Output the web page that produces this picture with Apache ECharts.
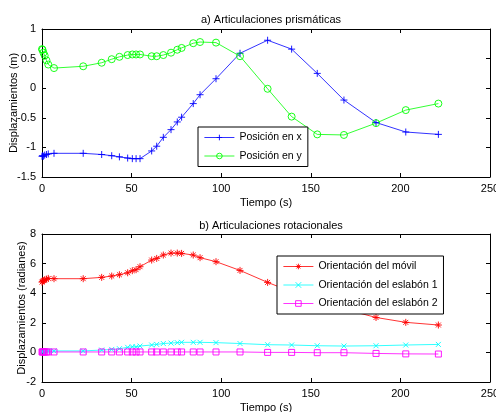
<!DOCTYPE html>
<html>
<head>
<meta charset="utf-8">
<script src="https://cdn.jsdelivr.net/npm/echarts@6/dist/echarts.min.js"></script>
<style>
  html, body { margin: 0; padding: 0; background: #fff; }
  #chart { width: 496px; height: 412px; }
</style>
</head>
<body>
<div id="chart"></div>
<script>
// time samples (s), shared by every series
const times = [0, 0.3, 0.8, 1.5, 2.5, 3.5, 6.7, 23, 33.3, 38.9, 43.2, 47.8, 50.4, 52.5, 54.7, 61.2, 64, 67.7, 72, 75.5, 77.9, 84.4, 88.2, 97.1, 110.5, 125.9, 139.3, 153.6, 168.5, 186.4, 203, 221.2];

// a) prismatic joints (m)
const posX = [-1.15, -1.14, -1.15, -1.13, -1.12, -1.11, -1.10, -1.10, -1.12, -1.14, -1.16, -1.18, -1.19, -1.19, -1.19, -1.06, -0.98, -0.83, -0.70, -0.57, -0.49, -0.26, -0.11, 0.16, 0.59, 0.81, 0.66, 0.25, -0.20, -0.58, -0.74, -0.78];
const posY = [0.66, 0.65, 0.60, 0.55, 0.47, 0.40, 0.34, 0.37, 0.43, 0.49, 0.53, 0.56, 0.57, 0.57, 0.57, 0.54, 0.54, 0.56, 0.60, 0.65, 0.68, 0.76, 0.78, 0.77, 0.54, -0.01, -0.48, -0.78, -0.79, -0.59, -0.37, -0.26];

// b) rotational joints (rad)
const rotMovil = [4.75, 4.80, 4.85, 4.90, 4.95, 5.00, 4.98, 4.98, 5.07, 5.16, 5.25, 5.38, 5.52, 5.59, 5.79, 6.24, 6.35, 6.58, 6.71, 6.71, 6.69, 6.58, 6.40, 6.13, 5.54, 4.73, 4.10, 3.50, 2.93, 2.36, 2.03, 1.85];
const rotEsl1 = [0.05, 0.06, 0.07, 0.08, 0.09, 0.10, 0.10, 0.10, 0.16, 0.20, 0.25, 0.34, 0.38, 0.38, 0.43, 0.50, 0.54, 0.60, 0.63, 0.66, 0.68, 0.68, 0.68, 0.66, 0.60, 0.52, 0.50, 0.45, 0.43, 0.45, 0.50, 0.54];
const rotEsl2 = [0.03, 0.03, 0.03, 0.03, 0.03, 0.03, 0.03, 0.03, 0.03, 0.03, 0.03, 0.03, 0.03, 0.03, 0.03, 0.03, 0.03, 0.03, 0.03, 0.03, 0.03, 0.03, 0.03, 0.03, 0.03, 0.00, 0.00, -0.02, -0.02, -0.07, -0.10, -0.11];

const xTicks = { min: 0, max: 250, interval: 50 };
const yTicksA = { min: -1.5, max: 1, interval: 0.5 };
const yTicksB = { min: -2, max: 8, interval: 2 };

const FONT = 'Liberation Sans, Arial, sans-serif';
// matlab-like markers, drawn as strokes only
const PLUS = 'path://M5 0L5 10M0 5L10 5';
const STAR = 'path://M5 0L5 10M0 5L10 5M1.5 1.5L8.5 8.5M8.5 1.5L1.5 8.5';
const CROSS = 'path://M0 0L10 10M10 0L0 10';
const CIRCLE = 'path://M10 5A5 5 0 1 1 0 5A5 5 0 1 1 10 5Z';
const SQUARE = 'path://M0 0L10 0L10 10L0 10Z';

const zip = (xs, ys) => xs.map((x, i) => [x, ys[i]]);

const axisCommon = {
  axisLine: { show: true, onZero: false, lineStyle: { color: '#000', width: 1 } },
  axisTick: { show: true, inside: true, length: 4, lineStyle: { color: '#000' } },
  splitLine: { show: false },
  axisLabel: { color: '#000', fontFamily: FONT, fontSize: 11 }
};

function xAx(grid, pos, name) {
  return Object.assign({}, axisCommon, {
    type: 'value', gridIndex: grid, position: pos,
    min: xTicks.min, max: xTicks.max, interval: xTicks.interval,
    axisLabel: Object.assign({}, axisCommon.axisLabel, { show: pos === 'bottom', margin: 6 }),
    name: pos === 'bottom' ? name : '',
    nameLocation: 'middle', nameGap: 20, nameMoveOverlap: false,
    nameTextStyle: { color: '#000', fontFamily: FONT, fontSize: 11 }
  });
}

function yAx(grid, pos, ticks, name, gap) {
  return Object.assign({}, axisCommon, {
    type: 'value', gridIndex: grid, position: pos,
    min: ticks.min, max: ticks.max, interval: ticks.interval,
    axisLabel: Object.assign({}, axisCommon.axisLabel, { show: pos === 'left', margin: 6 }),
    name: pos === 'left' ? name : '',
    nameLocation: 'middle', nameGap: gap || 20, nameMoveOverlap: false,
    nameTextStyle: { color: '#000', fontFamily: FONT, fontSize: 11 }
  });
}

function line(name, data, color, symbol, size, xi, yi) {
  return {
    name: name, type: 'line', xAxisIndex: xi, yAxisIndex: yi,
    data: data, symbol: symbol, symbolSize: size, showAllSymbol: true,
    lineStyle: { color: color, width: 0.8 },
    itemStyle: { color: 'rgba(0,0,0,0)', borderColor: color, borderWidth: 0.9 },
    emphasis: { disabled: true },
    animation: false
  };
}

const legendCommon = {
  orient: 'vertical', itemWidth: 30, itemHeight: 7, padding: [5, 6, 5, 6],
  borderColor: '#000', borderWidth: 1, borderRadius: 0, backgroundColor: '#fff',
  lineStyle: { width: 0.8 }, itemStyle: { borderWidth: 0.9 },
  textStyle: { fontFamily: FONT, fontSize: 10.5, color: '#000' }
};

const chart = echarts.init(document.getElementById('chart'));
chart.setOption({
  backgroundColor: '#fff',
  animation: false,
  title: [
    { text: 'a) Articulaciones prismáticas', left: 266, top: 9, textAlign: 'center',
      textStyle: { fontFamily: FONT, fontSize: 11, fontWeight: 'normal', color: '#000' } },
    { text: 'b) Articulaciones rotacionales', left: 266, top: 215, textAlign: 'center',
      textStyle: { fontFamily: FONT, fontSize: 11, fontWeight: 'normal', color: '#000' } }
  ],
  grid: [
    { left: 42, right: 6, top: 29, bottom: 235, containLabel: false, outerBoundsMode: 'none' },
    { left: 42, right: 6, top: 234, bottom: 30, containLabel: false, outerBoundsMode: 'none' }
  ],
  legend: [
    Object.assign({}, legendCommon, {
      data: ['Posición en x', 'Posición en y'], left: 198, top: 127, itemGap: 7.5 }),
    Object.assign({}, legendCommon, {
      data: ['Orientación del móvil', 'Orientación del eslabón 1', 'Orientación del eslabón 2'],
      left: 277, top: 256, itemGap: 7.5 })
  ],
  xAxis: [
    xAx(0, 'bottom', 'Tiempo (s)'), xAx(0, 'top', ''),
    xAx(1, 'bottom', 'Tiempo (s)'), xAx(1, 'top', '')
  ],
  yAxis: [
    yAx(0, 'left', yTicksA, 'Displazamientos (m)', 23), yAx(0, 'right', yTicksA, ''),
    yAx(1, 'left', yTicksB, 'Displazamientos (radianes)', 15), yAx(1, 'right', yTicksB, '')
  ],
  series: [
    line('Posición en x', zip(times, posX), '#0000ff', PLUS, 7, 0, 0),
    line('Posición en y', zip(times, posY), '#00ff00', CIRCLE, 7, 0, 0),
    line('Orientación del móvil', zip(times, rotMovil), '#ff0000', STAR, 7, 2, 2),
    line('Orientación del eslabón 1', zip(times, rotEsl1), '#00ffff', CROSS, 5, 2, 2),
    line('Orientación del eslabón 2', zip(times, rotEsl2), '#ff00ff', SQUARE, 6, 2, 2)
  ]
});
window.addEventListener('resize', () => chart.resize());
</script>
</body>
</html>
